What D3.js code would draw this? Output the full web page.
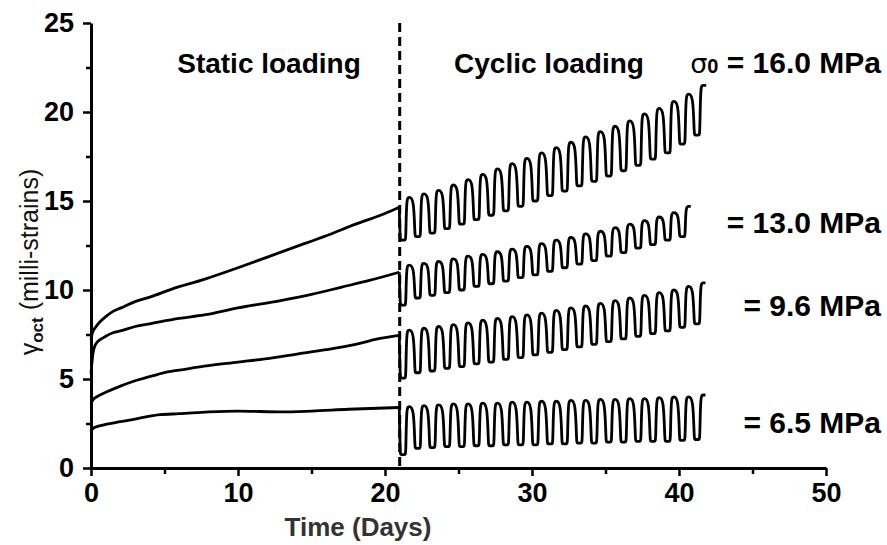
<!DOCTYPE html>
<html>
<head>
<meta charset="utf-8">
<script src="https://cdn.jsdelivr.net/npm/d3@7"></script>
<style>
  html, body { margin: 0; padding: 0; background: #fff; }
  svg { display: block; }
  text { font-family: "Liberation Sans", Arial, sans-serif; }
</style>
</head>
<body>
<svg id="chart" width="887" height="545"></svg>
<script>
// ---------------- DATA ----------------
const seriesLabels = ["σ0 = 16.0 MPa", "= 13.0 MPa", "= 9.6 MPa", "= 6.5 MPa"];

// static loading phase: [day, milli-strain]
const static16 = [[0,7.2],[0.1,7.6],[0.3,7.9],[0.6,8.2],[1,8.5],[1.5,8.8],[2.2,9.05],[3,9.35],[4,9.6],[5.5,10.05],[7.7,10.6],[10,11.25],[12,11.85],[14,12.45],[16,13.05],[18,13.7],[20,14.3],[20.97,14.65]];
const static13 = [[0,5.3],[0.1,6.2],[0.2,6.7],[0.4,7.05],[0.7,7.25],[1,7.4],[1.5,7.6],[2,7.7],[3,7.95],[4,8.1],[6,8.4],[7.7,8.6],[10,9.0],[12.9,9.4],[15,9.75],[17,10.15],[19,10.55],[20.97,11.0]];
const static96 = [[0,3.6],[0.1,3.8],[0.5,4.05],[1,4.25],[2,4.6],[3,4.9],[4.5,5.25],[5.2,5.4],[6,5.5],[7.7,5.72],[10,5.95],[12,6.15],[14,6.4],[16,6.65],[18,6.95],[19.5,7.25],[20.97,7.45]];
const static65 = [[0,2.0],[0.1,2.2],[0.5,2.35],[1,2.45],[2,2.6],[3,2.75],[4.7,3.0],[6,3.05],[8,3.15],[10,3.2],[13,3.15],[15,3.2],[17.5,3.3],[20.97,3.4]];

// cyclic loading phase: one low (unloaded) and one high (loaded) value per daily cycle from day 21
const lows16  = [12.8,13.0,13.2,13.45,13.7,13.95,14.2,14.45,14.7,15.0,15.3,15.55,15.85,16.1,16.4,16.7,17.0,17.35,17.7,18.2,18.7];
const highs16 = [15.2,15.4,15.6,15.9,16.2,16.5,16.8,17.1,17.4,17.7,18.0,18.3,18.6,18.9,19.2,19.5,19.9,20.2,20.6,21.0,21.5];
const lows13  = [9.15,9.55,9.7,9.85,10.0,10.2,10.35,10.5,10.7,10.85,11.05,11.25,11.45,11.65,11.9,12.1,12.35,12.55,12.8,13.0];
const highs13 = [11.4,11.5,11.6,11.75,11.9,12.0,12.15,12.3,12.45,12.6,12.8,12.95,13.15,13.3,13.5,13.7,13.9,14.1,14.35,14.7];
const lows96  = [5.05,5.35,5.45,5.6,5.7,5.85,5.95,6.1,6.2,6.35,6.5,6.65,6.8,6.95,7.1,7.25,7.4,7.55,7.7,7.9,8.1];
const highs96 = [7.75,7.85,7.95,8.05,8.15,8.3,8.4,8.5,8.6,8.7,8.85,9.0,9.1,9.25,9.4,9.55,9.7,9.85,10.0,10.2,10.4];
const lows65  = [0.75,1.1,1.15,1.2,1.2,1.25,1.25,1.3,1.3,1.3,1.35,1.35,1.4,1.4,1.45,1.45,1.5,1.5,1.5,1.55,1.6];
const highs65 = [3.45,3.5,3.55,3.6,3.6,3.65,3.65,3.7,3.7,3.75,3.75,3.8,3.8,3.85,3.85,3.9,3.9,3.95,4.0,4.0,4.1];

const cycleStartDay = 21;
const xTickLabels = [0, 10, 20, 30, 40, 50];
const xMinorTicks = [5, 15, 25, 35, 45];
const yTickLabels = [0, 5, 10, 15, 20, 25];
const yMinorTicks = [2.5, 7.5, 12.5, 17.5, 22.5];

// ---------------- DRAWING ----------------
const svg = d3.select("#chart");
const x = d3.scaleLinear().domain([0, 50]).range([91, 826]);
const y = d3.scaleLinear().domain([0, 25]).range([468, 23]);

function styleAxis(g) {
  g.select(".domain").attr("stroke", "#000").attr("stroke-width", 3);
  g.selectAll(".tick line").attr("stroke", "#000").attr("stroke-width", 2.5);
  g.selectAll(".tick text").attr("fill", "#000").style("font-size", "27px").style("font-weight", "bold")
    .style("font-family", '"Liberation Sans", Arial, sans-serif');
}

// minor ticks
svg.append("g").attr("transform", `translate(0,${y(0)})`)
  .call(d3.axisBottom(x).tickValues(xMinorTicks).tickSize(6).tickFormat(""))
  .call(g => { g.select(".domain").remove(); g.selectAll("line").attr("stroke", "#000").attr("stroke-width", 2.5); });
svg.append("g").attr("transform", `translate(${x(0)},0)`)
  .call(d3.axisLeft(y).tickValues(yMinorTicks).tickSize(5).tickFormat(""))
  .call(g => { g.select(".domain").remove(); g.selectAll("line").attr("stroke", "#000").attr("stroke-width", 2.5); });

// major axes
svg.append("g").attr("transform", `translate(0,${y(0)})`)
  .call(d3.axisBottom(x).tickValues(xTickLabels).tickSize(8).tickSizeOuter(0).tickPadding(7).tickFormat(d3.format("d")))
  .call(styleAxis);
svg.append("g").attr("transform", `translate(${x(0)},0)`)
  .call(d3.axisLeft(y).tickValues(yTickLabels).tickSize(8).tickSizeOuter(0).tickPadding(9).tickFormat(d3.format("d")))
  .call(styleAxis);

// dashed separator at start of cyclic loading
svg.append("line")
  .attr("x1", x(cycleStartDay)).attr("x2", x(cycleStartDay))
  .attr("y1", y(25)).attr("y2", y(0))
  .attr("stroke", "#000").attr("stroke-width", 3).attr("stroke-dasharray", "9,5");

// curves
const staticLine = d3.line().x(d => x(d[0])).y(d => y(d[1])).curve(d3.curveMonotoneX);
const cycLine = d3.line().x(d => x(d[0])).y(d => y(d[1])).curve(d3.curveBasis);

function cyclicPoints(staticData, lows, highs, lastCut) {
  const last = staticData[staticData.length - 1];
  const pts = [[last[0], last[1]], [last[0], last[1]]];
  lows.forEach((lo, k) => {
    const t0 = cycleStartDay + k, hi = highs[k];
    pts.push([t0 + 0.03, lo], [t0 + 0.08, lo], [t0 + 0.36, lo], [t0 + 0.42, lo], [t0 + 0.46, hi], [t0 + 0.62, hi]);
    if (k < lows.length - 1) pts.push([t0 + 0.96, hi]);
    else pts.push([t0 + lastCut, hi], [t0 + lastCut, hi]);
  });
  return pts;
}

const series = [
  { st: static16, lo: lows16, hi: highs16, cut: 0.85 },
  { st: static13, lo: lows13, hi: highs13, cut: 0.8 },
  { st: static96, lo: lows96, hi: highs96, cut: 0.8 },
  { st: static65, lo: lows65, hi: highs65, cut: 0.8 }
];
series.forEach(s => {
  svg.append("path").attr("d", staticLine(s.st))
    .attr("fill", "none").attr("stroke", "#000").attr("stroke-width", 2.8).attr("stroke-linejoin", "round");
  svg.append("path").attr("d", cycLine(cyclicPoints(s.st, s.lo, s.hi, s.cut)))
    .attr("fill", "none").attr("stroke", "#000").attr("stroke-width", 2.8).attr("stroke-linejoin", "round");
});

// annotations
svg.append("text").attr("x", 269).attr("y", 73).attr("text-anchor", "middle")
  .style("font-size", "28px").style("font-weight", "bold").text("Static loading");
svg.append("text").attr("x", 549).attr("y", 73).attr("text-anchor", "middle")
  .style("font-size", "28px").style("font-weight", "bold").text("Cyclic loading");

const lab0 = svg.append("text").attr("x", 881).attr("y", 73).attr("text-anchor", "end")
  .style("font-size", "30px").style("font-weight", "bold");
lab0.append("tspan").style("font-weight", "normal").style("font-family", '"DejaVu Sans", sans-serif').style("font-size", "27px").text("σ");
lab0.append("tspan").style("font-size", "20px").text("0");
lab0.append("tspan").text(" " + seriesLabels[0].split(" ").slice(1).join(" "));

const labelY = [233, 316, 433];
[1, 2, 3].forEach((i, j) => {
  svg.append("text").attr("x", 881).attr("y", labelY[j]).attr("text-anchor", "end")
    .style("font-size", "30px").style("font-weight", "bold").text(seriesLabels[i]);
});

// axis titles
svg.append("text").attr("x", 358).attr("y", 536).attr("text-anchor", "middle")
  .attr("fill", "#333").style("font-size", "26px").style("font-weight", "bold").text("Time (Days)");

const yt = svg.append("text").attr("transform", "translate(38,262) rotate(-90)").attr("text-anchor", "middle")
  .attr("fill", "#111").style("font-size", "25px");
yt.append("tspan").text("γ");
yt.append("tspan").attr("dy", 5).style("font-size", "17px").style("font-weight", "bold").text("oct");
yt.append("tspan").attr("dy", -5).text(" (milli-strains)");
</script>
</body>
</html>
